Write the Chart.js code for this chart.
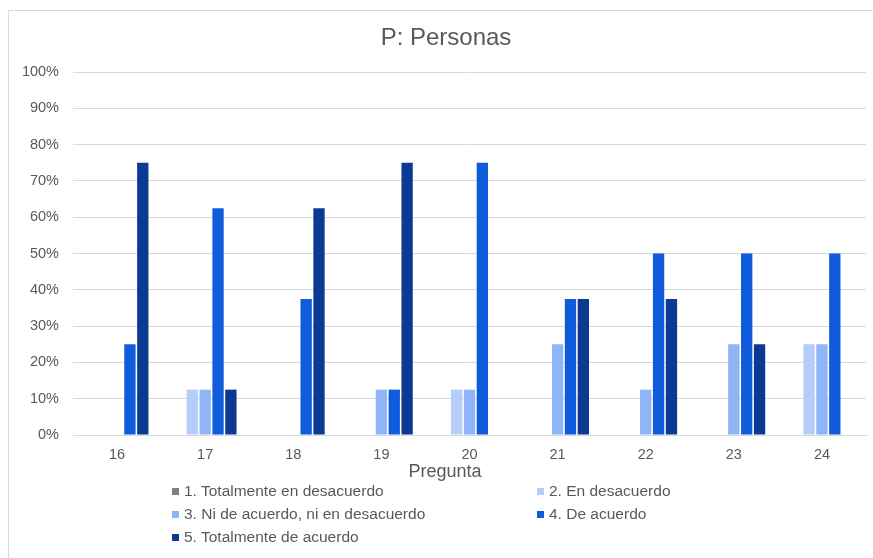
<!DOCTYPE html>
<html>
<head>
<meta charset="utf-8">
<script src="https://cdn.jsdelivr.net/npm/chart.js@4/dist/chart.umd.min.js"></script>
<style>
  html, body { margin: 0; padding: 0; background: #fff; }
  body { width: 873px; height: 558px; position: relative; overflow: hidden; font-family: "Liberation Sans", Arial, sans-serif; }
  #frame { position: absolute; left: 8px; top: 10px; width: 900px; height: 600px; border: 1px solid #d9d9d9; box-sizing: border-box; }
  #wrap { position: absolute; left: 0; top: 0; width: 873px; height: 558px; }
  #legend { position: absolute; left: 0; top: 0; width: 873px; height: 558px; pointer-events: none; }
  .item { position: absolute; display: flex; align-items: center; font-size: 15.5px; color: #595959; white-space: nowrap; height: 20px; }
  .sw { width: 7px; height: 7px; margin-right: 5px; }
</style>
</head>
<body>
<div id="frame"></div>
<div id="wrap"><canvas id="c" width="873" height="558"></canvas></div>
<div id="legend"></div>
<script>
// Question numbers on the x axis
const preguntas = ['16', '17', '18', '19', '20', '21', '22', '23', '24'];

// Share of answers (%) for each Likert level
const totalmenteDesacuerdo = [0, 0, 0, 0, 0, 0, 0, 0, 0];
const enDesacuerdo        = [0, 12.5, 0, 0, 12.5, 0, 0, 0, 25];
const niAcuerdo           = [0, 12.5, 0, 12.5, 12.5, 25, 12.5, 25, 25];
const deAcuerdo           = [25, 62.5, 37.5, 12.5, 75, 37.5, 50, 50, 50];
const totalmenteAcuerdo   = [75, 12.5, 62.5, 75, 0, 37.5, 37.5, 25, 0];

const nombres = [
  '1. Totalmente en desacuerdo',
  '2. En desacuerdo',
  '3. Ni de acuerdo, ni en desacuerdo',
  '4. De acuerdo',
  '5. Totalmente de acuerdo'
];
const colores = ['#808080', '#b4cdfa', '#8fb4f7', '#105bdb', '#0c3a93'];
const series = [totalmenteDesacuerdo, enDesacuerdo, niAcuerdo, deAcuerdo, totalmenteAcuerdo];

const titulo = 'P: Personas';
const tituloEje = 'Pregunta';

const gris = '#595959';
const rejilla = '#d9d9d9';
const fuente = '"Liberation Sans", Arial, sans-serif';

// Chart title and axis title, centred on the frame rather than the plot
const textos = {
  id: 'textos',
  afterDraw(chart) {
    const ctx = chart.ctx;
    ctx.save();
    ctx.fillStyle = gris;
    ctx.textAlign = 'center';
    ctx.textBaseline = 'middle';
    ctx.font = '24px ' + fuente;
    ctx.fillText(titulo, 446, 38);
    ctx.font = '18px ' + fuente;
    ctx.fillText(tituloEje, 445, 472);
    ctx.restore();
  }
};

const chart = new Chart(document.getElementById('c'), {
  type: 'bar',
  data: {
    labels: preguntas,
    datasets: series.map((d, i) => ({
      label: nombres[i],
      data: d,
      backgroundColor: colores[i],
      borderWidth: 0,
      categoryPercentage: 0.73,
      barPercentage: 0.88
    }))
  },
  plugins: [textos],
  options: {
    responsive: false,
    animation: false,
    layout: { padding: { left: 0, right: 7, top: 72, bottom: 0 } },
    plugins: {
      legend: { display: false },
      tooltip: { enabled: false },
      title: { display: false }
    },
    scales: {
      x: {
        grid: { display: false, drawTicks: false },
        border: { display: true, color: rejilla, width: 1 },
        ticks: { color: gris, padding: 11, font: { family: fuente, size: 14.5 } },
        afterFit: s => { s.height = 123; }
      },
      y: {
        min: 0,
        max: 100,
        ticks: {
          stepSize: 10,
          color: gris,
          padding: 14,
          font: { family: fuente, size: 14.5 },
          callback: v => v + '%'
        },
        grid: { color: rejilla, lineWidth: 1, drawTicks: false },
        border: { display: false },
        afterFit: s => { s.width = 73; }
      }
    }
  }
});

// Two-column legend under the axis title
const legend = document.getElementById('legend');
const colX = [172, 537];
const rowY = [491, 514, 537];
chart.data.datasets.forEach((ds, i) => {
  const el = document.createElement('div');
  el.className = 'item';
  el.style.left = colX[i % 2] + 'px';
  el.style.top = (rowY[Math.floor(i / 2)] - 10) + 'px';
  const sw = document.createElement('span');
  sw.className = 'sw';
  sw.style.background = ds.backgroundColor;
  const tx = document.createElement('span');
  tx.textContent = ds.label;
  el.appendChild(sw);
  el.appendChild(tx);
  legend.appendChild(el);
});
</script>
</body>
</html>
